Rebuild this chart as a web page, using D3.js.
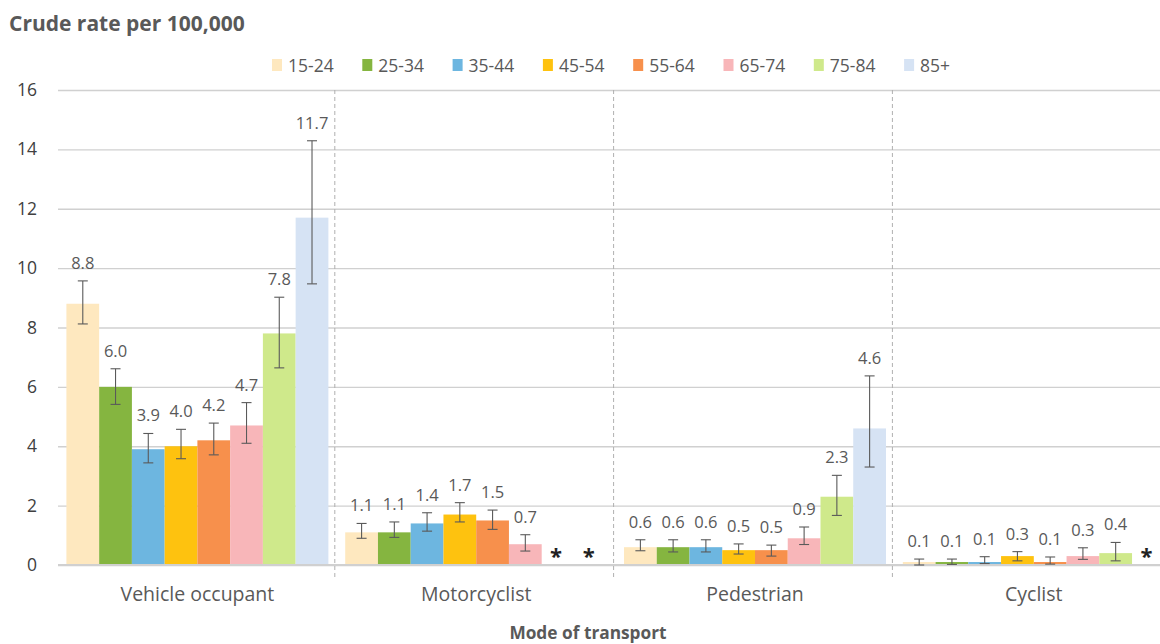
<!DOCTYPE html>
<html>
<head>
<meta charset="utf-8">
<script src="https://cdn.jsdelivr.net/npm/d3@7/dist/d3.min.js"></script>
<style>
  html, body { margin: 0; padding: 0; background: #fff; }
  svg { display: block; font-family: "Open Sans", Lato, sans-serif; }
</style>
</head>
<body>
<svg id="chart" width="1160" height="644"></svg>
<script>
// Road deaths by mode of transport and age group (crude rate per 100,000)
const modes = ["Vehicle occupant", "Motorcyclist", "Pedestrian", "Cyclist"];
const ageGroups = ["15-24", "25-34", "35-44", "45-54", "55-64", "65-74", "75-84", "85+"];
const ageColors = ["#fee8bf", "#85b540", "#6db6e0", "#fec20f", "#f7904c", "#f8b6b9", "#cfe98b", "#d6e3f4"];

// Rates per mode, one value per age group (null = not published, shown as *)
const vehicleOccupant = [8.8, 6.0, 3.9, 4.0, 4.2, 4.7, 7.8, 11.7];
const motorcyclist    = [1.1, 1.1, 1.4, 1.7, 1.5, 0.7, null, null];
const pedestrian      = [0.6, 0.6, 0.6, 0.5, 0.5, 0.9, 2.3, 4.6];
const cyclist         = [0.1, 0.1, 0.1, 0.3, 0.1, 0.3, 0.4, null];

// 95% confidence interval bounds
const vehicleOccupantLow  = [8.12, 5.41, 3.44, 3.58, 3.71, 4.10, 6.64, 9.47];
const vehicleOccupantHigh = [9.57, 6.61, 4.43, 4.57, 4.78, 5.47, 9.02, 14.29];
const motorcyclistLow     = [0.90, 0.93, 1.14, 1.45, 1.20, 0.47, null, null];
const motorcyclistHigh    = [1.40, 1.45, 1.76, 2.10, 1.85, 1.02, null, null];
const pedestrianLow       = [0.48, 0.44, 0.44, 0.37, 0.30, 0.69, 1.67, 3.30];
const pedestrianHigh      = [0.85, 0.85, 0.85, 0.71, 0.67, 1.28, 3.02, 6.37];
const cyclistLow          = [0.0, 0.02, 0.05, 0.14, 0.03, 0.19, 0.14, null];
const cyclistHigh         = [0.2, 0.2, 0.28, 0.45, 0.27, 0.58, 0.76, null];

const yTicks = [0, 2, 4, 6, 8, 10, 12, 14, 16];
const titleText = "Crude rate per 100,000";
const xTitleText = "Mode of transport";

const rates = [vehicleOccupant, motorcyclist, pedestrian, cyclist];
const lows  = [vehicleOccupantLow, motorcyclistLow, pedestrianLow, cyclistLow];
const highs = [vehicleOccupantHigh, motorcyclistHigh, pedestrianHigh, cyclistHigh];

const rows = [];
modes.forEach((m, i) => ageGroups.forEach((a, j) => {
  rows.push({ mode: m, age: a, idx: j, value: rates[i][j], lo: lows[i][j], hi: highs[i][j] });
}));

const svg = d3.select("#chart");
const plotLeft = 58, groupStep = 278.8;
const x0 = d3.scaleBand().domain(modes).range([plotLeft, plotLeft + groupStep * modes.length]).padding(0);
const x1 = d3.scaleBand().domain(ageGroups).range([0, x0.bandwidth()]).paddingInner(0).paddingOuter(0.257);
const y = d3.scaleLinear().domain([0, 16]).range([565, 90]);

const textGrey = "#595959";

// Title
svg.append("text").attr("x", 9).attr("y", 31)
  .attr("font-size", 21).attr("font-weight", 700).attr("fill", textGrey)
  .text(titleText);

// Legend
const legend = svg.append("g");
ageGroups.forEach((a, i) => {
  const lx = 272 + i * 90.3;
  legend.append("rect").attr("x", lx).attr("y", 59).attr("width", 10).attr("height", 12).attr("fill", ageColors[i]);
  legend.append("text").attr("x", lx + 16).attr("y", 71.5).attr("font-size", 17.5).attr("fill", textGrey).text(a);
});

// Horizontal gridlines and y tick labels
const yAxis = d3.axisLeft(y).tickValues(yTicks).tickSize(-(1160 - plotLeft)).tickPadding(21).tickFormat(d3.format("d"));
const gy = svg.append("g").attr("transform", `translate(${plotLeft},0)`).call(yAxis);
gy.select(".domain").remove();
gy.selectAll(".tick line").attr("stroke", "#d0d0d0").attr("stroke-width", 1.3);
gy.selectAll(".tick text").attr("font-size", 17.5).attr("fill", "#404040").attr("font-family", "'Open Sans', sans-serif");

// Dashed separators between modes
svg.append("g").selectAll("line").data(modes.slice(1)).join("line")
  .attr("x1", d => x0(d) - 2).attr("x2", d => x0(d) - 2)
  .attr("y1", y(16)).attr("y2", 577)
  .attr("stroke", "#b0b0b0").attr("stroke-width", 1).attr("stroke-dasharray", "4,3");

// Bars
const bars = rows.filter(r => r.value !== null);
svg.append("g").selectAll("rect").data(bars).join("rect")
  .attr("x", d => x0(d.mode) + x1(d.age))
  .attr("y", d => y(d.value))
  .attr("width", x1.bandwidth())
  .attr("height", d => y(0) - y(d.value))
  .attr("fill", d => ageColors[d.idx]);

// Baseline
svg.append("line").attr("x1", plotLeft).attr("x2", 1160).attr("y1", y(0)).attr("y2", y(0))
  .attr("stroke", "#d0d0d0").attr("stroke-width", 2);

// Error bars
const eb = svg.append("g").attr("stroke", "#5a5a5a").attr("stroke-width", 1.1);
bars.forEach(d => {
  const cx = x0(d.mode) + x1(d.age) + x1.bandwidth() / 2;
  eb.append("line").attr("x1", cx).attr("x2", cx).attr("y1", y(d.lo)).attr("y2", y(d.hi));
  eb.append("line").attr("x1", cx - 5).attr("x2", cx + 5).attr("y1", y(d.lo)).attr("y2", y(d.lo));
  eb.append("line").attr("x1", cx - 5).attr("x2", cx + 5).attr("y1", y(d.hi)).attr("y2", y(d.hi));
});

// Value labels
svg.append("g").selectAll("text").data(bars).join("text")
  .attr("x", d => x0(d.mode) + x1(d.age) + x1.bandwidth() / 2)
  .attr("y", d => y(d.hi) - 12)
  .attr("text-anchor", "middle").attr("font-size", 16.5).attr("fill", textGrey)
  .text(d => d3.format(".1f")(d.value));

// Asterisks for unpublished rates
svg.append("g").selectAll("text").data(rows.filter(r => r.value === null)).join("text")
  .attr("x", d => x0(d.mode) + x1(d.age) + x1.bandwidth() / 2 - 2)
  .attr("y", 564)
  .attr("text-anchor", "middle").attr("font-size", 22).attr("font-weight", 700).attr("fill", "#222")
  .text("*");

// Category labels
svg.append("g").selectAll("text").data(modes).join("text")
  .attr("x", d => x0(d) + x0.bandwidth() / 2).attr("y", 601)
  .attr("text-anchor", "middle").attr("font-size", 19.5).attr("fill", textGrey)
  .text(d => d);

// X axis title
svg.append("text").attr("x", 588).attr("y", 639)
  .attr("text-anchor", "middle").attr("font-size", 17.3).attr("font-weight", 700).attr("fill", textGrey)
  .text(xTitleText);
</script>
</body>
</html>
